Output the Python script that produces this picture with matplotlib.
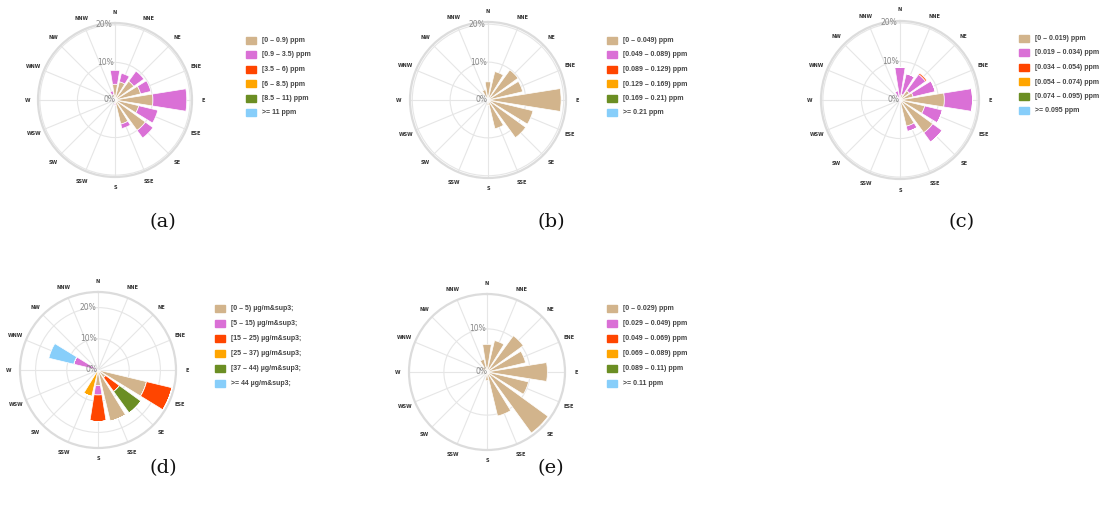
import numpy as np
import matplotlib
matplotlib.use("Agg")
import matplotlib.pyplot as plt
from matplotlib.patches import Rectangle

W, H = 1105, 508

DIRECTIONS = ["N", "NNE", "NE", "ENE", "E", "ESE", "SE", "SSE",
              "S", "SSW", "SW", "WSW", "W", "WNW", "NW", "NNW"]
COLORS = ["#D2B48C", "#DA70D6", "#FF4500", "#FFA500", "#6B8E23", "#87CEFA"]

# ---- panel (a) ----
A_LABELS = ["[0 – 0.9) ppm", "[0.9 – 3.5) ppm", "[3.5 – 6) ppm",
            "[6 – 8.5) ppm", "[8.5 – 11) ppm", ">= 11 ppm"]
A_BIN1 = [4.2, 5.0, 6.2, 7.0, 10.1, 6.5, 10.0, 6.6, 1.0, 0.3, 0.2, 0.2, 0.3, 0.3, 0.5, 1.5]
A_BIN2 = [3.7, 2.3, 3.3, 2.8, 9.0, 5.2, 2.5, 1.2, 0.5, 0.1, 0.1, 0.1, 0.2, 0.2, 0.3, 1.0]

# ---- panel (b) ----
B_LABELS = ["[0 – 0.049) ppm", "[0.049 – 0.089) ppm", "[0.089 – 0.129) ppm",
            "[0.129 – 0.169) ppm", "[0.169 – 0.21) ppm", ">= 0.21 ppm"]
B_BIN1 = [4.8, 7.7, 9.8, 9.4, 19.3, 12.2, 12.3, 7.8, 1.5, 0.5, 0.3, 0.3, 0.5, 0.5, 0.8, 2.8]

# ---- panel (c) ----
C_LABELS = ["[0 – 0.019) ppm", "[0.019 – 0.034) ppm", "[0.034 – 0.054) ppm",
            "[0.054 – 0.074) ppm", "[0.074 – 0.095) ppm", ">= 0.095 ppm"]
C_BIN1 = [1.0, 1.5, 3.0, 3.5, 11.5, 6.6, 10.5, 7.0, 0.3, 0.1, 0.1, 0.1, 0.2, 0.2, 0.3, 0.5]
C_BIN2 = [7.5, 5.5, 5.2, 5.9, 7.3, 4.7, 3.0, 1.4, 0.5, 0.1, 0.1, 0.1, 0.2, 0.3, 0.5, 2.0]
C_BIN3 = [0, 0, 0.4, 0, 0, 0, 0, 0, 0, 0, 0, 0, 0, 0, 0, 0]

# ---- panel (d) ----
D_LABELS = ["[0 – 5) µg/m&sup3;", "[5 – 15) µg/m&sup3;", "[15 – 25) µg/m&sup3;",
            "[25 – 37) µg/m&sup3;", "[37 – 44) µg/m&sup3;", ">= 44 µg/m&sup3;"]
D_BIN1 = [0, 0, 0, 0, 0, 16.0, 3.0, 16.9, 5.0, 0, 0, 0, 0, 0, 0, 0]
D_BIN2 = [0, 0, 0, 0, 0, 0, 0, 0, 3.0, 0, 0, 0, 0, 8.0, 0, 0]
D_BIN3 = [0, 0, 0, 0, 0, 8.4, 5.5, 0, 8.5, 0, 0, 0, 0, 0, 0, 0]
D_BIN4 = [0, 0, 0, 0, 0, 0, 0, 0, 0, 8.7, 0, 0, 0, 0, 0, 0]
D_BIN5 = [0, 0, 0, 0, 0, 0, 8.5, 0, 0, 0, 0, 0, 0, 0, 0, 0]
D_BIN6 = [0, 0, 0, 0, 0, 0, 0, 0, 0, 0, 0, 0, 0, 8.2, 0, 0]

# ---- panel (e) ----
E_LABELS = ["[0 – 0.029) ppm", "[0.029 – 0.049) ppm", "[0.049 – 0.069) ppm",
            "[0.069 – 0.089) ppm", "[0.089 – 0.11) ppm", ">= 0.11 ppm"]
E_BIN1 = [6.4, 7.5, 10.4, 9.2, 14.0, 9.9, 17.5, 10.5, 2.0, 0.8, 0.5, 0.8, 1.0, 1.0, 1.5, 3.0]

CAPTIONS = ["(a)", "(b)", "(c)", "(d)", "(e)"]

fig = plt.figure(figsize=(W / 100, H / 100), dpi=100)
fig.patch.set_facecolor("white")


def fx(x):
    return x / W


def fy(y):
    return 1 - y / H


def rose(cx, cy, R, rmax, rings, series):
    ax = fig.add_axes([fx(cx - R), fy(cy + R), 2 * R / W, 2 * R / H],
                      projection="polar")
    ax.set_theta_zero_location("N")
    ax.set_theta_direction(-1)
    ax.set_ylim(0, rmax)
    theta = np.deg2rad(np.arange(16) * 22.5)
    ax.set_thetagrids(np.arange(16) * 22.5, [""] * 16)
    ax.set_rgrids(rings, [""] * len(rings))
    ax.grid(True, color="#e6e6e6", lw=0.8)
    ax.set_axisbelow(True)
    ax.spines["polar"].set_color("#dcdcdc")
    ax.spines["polar"].set_linewidth(1.6)
    bottom = np.zeros(16)
    width = np.deg2rad(22.5 * 0.8)
    for vals, col in zip(series, COLORS):
        v = np.array(vals, dtype=float)
        ax.bar(theta, v, width=width, bottom=bottom, color=col,
               edgecolor="white", linewidth=0.5, zorder=3)
        bottom = bottom + v
    for t, d in zip(theta, DIRECTIONS):
        ax.text(t, rmax * 1.14, d, ha="center", va="center", fontsize=3.6,
                fontweight="bold", color="#333333")
    for rv in [0] + list(rings):
        ax.text(np.deg2rad(-2), rv, f"{rv}%", ha="right", va="center",
                fontsize=5.5, color="#888888", zorder=4)
    return ax


def legend(x, ys, labels):
    for y, lab, col in zip(ys, labels, COLORS):
        fig.patches.append(Rectangle((fx(x), fy(y + 3.5)), 10 / W, 7 / H,
                                     transform=fig.transFigure, color=col))
        fig.text(fx(x + 16), fy(y + 2), lab, fontsize=5.0, fontweight="bold",
                 family="Liberation Sans", color="#444444",
                 va="baseline", ha="left")


rose(115, 100, 77, 20.5, [10, 20], [A_BIN1, A_BIN2])
rose(488, 100, 78, 20.6, [10, 20], [B_BIN1])
rose(900, 100, 79, 20.5, [10, 20], [C_BIN1, C_BIN2, C_BIN3])
rose(98, 370, 78, 25.0, [10, 20], [D_BIN1, D_BIN2, D_BIN3, D_BIN4, D_BIN5, D_BIN6])
rose(487, 372, 78, 18.1, [10], [E_BIN1])

legend(246, [40, 54.5, 69, 83.5, 98, 112.5], A_LABELS)
legend(607, [40, 54.5, 69, 83.5, 98, 112.5], B_LABELS)
legend(1019, [38, 52.5, 67, 81.5, 96, 110.5], C_LABELS)
legend(215, [308, 323, 338, 353, 368, 383], D_LABELS)
legend(607, [308, 323, 338, 353, 368, 383], E_LABELS)

for (x, y), cap in zip([(163, 222), (551, 222), (962, 222), (163, 468), (551, 468)],
                       CAPTIONS):
    fig.text(fx(x), fy(y), cap, fontsize=14, family="DejaVu Serif",
             ha="center", va="center", color="#111111")

fig.savefig("out.png", dpi=100, facecolor="white")
